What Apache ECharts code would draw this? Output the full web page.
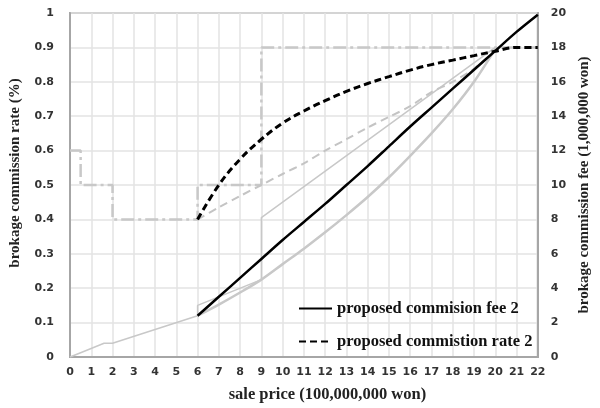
<!DOCTYPE html>
<html><head><meta charset="utf-8">
<script src="https://cdn.jsdelivr.net/npm/echarts@6/dist/echarts.min.js"></script>
<style>html,body{margin:0;padding:0;background:#fff}#c{width:600px;height:408px}</style>
</head><body><div id="c"></div>
<script>
// tick labels
const xTicks = [0,1,2,3,4,5,6,7,8,9,10,11,12,13,14,15,16,17,18,19,20,21,22];
const rateTicks = [0,0.1,0.2,0.3,0.4,0.5,0.6,0.7,0.8,0.9,1];
const feeTicks = [0,2,4,6,8,10,12,14,16,18,20];

// current commission rate (%) step line
const curRateX = [0,0.5,0.5,2,2,6,6,9,9,22];
const curRateY = [0.6,0.6,0.5,0.5,0.4,0.4,0.5,0.5,0.9,0.9];
// current commission fee (1,000,000 won)
const curFeeX = [0,0.5,1.6,2,6,6,9,9,20];
const curFeeY = [0,0.25,0.8,0.8,2.4,3.0,4.5,8.1,18];

// proposed 1 (gray)
const price1 = [6,7,8,9,10,11,12,13,14,15,16,17,18,19,20];
const rate1 = [0.40,0.435,0.468,0.50,0.532,0.563,0.60,0.633,0.667,0.698,0.729,0.77,0.80,0.838,0.89];
const fee1 = [2.4,3.05,3.75,4.5,5.4,6.3,7.25,8.25,9.3,10.45,11.7,13.0,14.4,16.0,17.9];

// proposed 2 (black)
const price2 = [6,7,8,9,10,11,12,13,14,15,16,17,18,19,20,21,22];
const rate2 = [0.40,0.50,0.575,0.633,0.68,0.715,0.745,0.772,0.795,0.815,0.834,0.85,0.863,0.876,0.889,0.9,0.9];
const fee2 = [2.4,3.5,4.6,5.7,6.8,7.85,8.9,10.0,11.1,12.25,13.4,14.5,15.6,16.7,17.8,18.9,19.9];

const legendNames = ['proposed commision fee 2','proposed commistion rate 2'];

const zip = (a,b) => a.map((v,i)=>[v,b[i]]);
const serif = 'Liberation Serif';
const tickFont = {fontFamily:'DejaVu Sans', fontWeight:'bold', fontSize:11, color:'#333'};
const lightGray = '#c8c8c8';

const chart = echarts.init(document.getElementById('c'), null, {renderer:'canvas'});
chart.setOption({
  animation:false,
  backgroundColor:'#fff',
  grid:{left:60, right:44, top:13, bottom:49, show:true, borderColor:'#a6a6a6', borderWidth:2},
  legend:{
    data:legendNames, orient:'vertical', left:293, top:295,
    itemWidth:33, itemHeight:14, itemGap:16,
    itemStyle:{opacity:0},
    textStyle:{fontFamily:serif, fontWeight:'bold', fontSize:16.5, color:'#111'}
  },
  xAxis:{
    type:'value', min:xTicks[0], max:xTicks[xTicks.length-1], interval:1,
    name:'sale price (100,000,000 won)', nameLocation:'middle', nameGap:29,
    nameTextStyle:{fontFamily:serif, fontWeight:'bold', fontSize:16.5, color:'#222', padding:[0,0,0,47]},
    axisLine:{show:true, lineStyle:{color:'#a6a6a6', width:2}},
    axisTick:{show:false},
    axisLabel:Object.assign({margin:10}, tickFont),
    splitLine:{show:true, lineStyle:{color:'#e3e3e3', width:1.5}}
  },
  yAxis:[{
    type:'value', min:rateTicks[0], max:rateTicks[rateTicks.length-1], interval:0.1,
    name:'brokage commission rate (%)', nameLocation:'middle', nameGap:47,
    nameTextStyle:{fontFamily:serif, fontWeight:'bold', fontSize:15, color:'#222', padding:[0,0,0,24]},
    axisLine:{show:true, lineStyle:{color:'#a6a6a6', width:2}},
    axisTick:{show:false},
    axisLabel:Object.assign({margin:16}, tickFont),
    splitLine:{show:true, lineStyle:{color:'#e3e3e3', width:1.5}}
  },{
    type:'value', min:feeTicks[0], max:feeTicks[feeTicks.length-1], interval:2, position:'right',
    name:'brokage commission fee (1,000,000 won)', nameLocation:'middle', nameGap:37, nameRotate:90,
    nameTextStyle:{fontFamily:serif, fontWeight:'bold', fontSize:15, color:'#222'},
    axisLine:{show:true, lineStyle:{color:'#a6a6a6', width:2}},
    axisTick:{show:false},
    axisLabel:Object.assign({margin:13}, tickFont),
    splitLine:{show:false}
  }],
  series:[
    {name:'current commission rate', type:'line', yAxisIndex:0, data:zip(curRateX,curRateY),
     symbol:'none', lineStyle:{color:lightGray, width:2.5, type:[13,4,3,4]}, z:1},
    {name:'current commission fee', type:'line', yAxisIndex:1, data:zip(curFeeX,curFeeY),
     symbol:'none', lineStyle:{color:lightGray, width:1.5}, z:2},
    {name:'proposed commission rate 1', type:'line', yAxisIndex:0, data:zip(price1,rate1), smooth:0.3,
     symbol:'none', lineStyle:{color:'#c4c4c4', width:2, type:[8,5]}, z:2},
    {name:'proposed commission fee 1', type:'line', yAxisIndex:1, data:zip(price1,fee1), smooth:0.3,
     symbol:'none', lineStyle:{color:lightGray, width:2.5}, z:2},
    {name:legendNames[0], type:'line', yAxisIndex:1, data:zip(price2,fee2), smooth:0.3,
     symbol:'none', itemStyle:{color:'#000'}, lineStyle:{color:'#000', width:2.5}, z:5},
    {name:legendNames[1], type:'line', yAxisIndex:0, data:zip(price2,rate2), smooth:0.4,
     symbol:'none', itemStyle:{color:'#000'}, lineStyle:{color:'#000', width:3, type:[7,4]}, z:5}
  ]
});
</script></body></html>
